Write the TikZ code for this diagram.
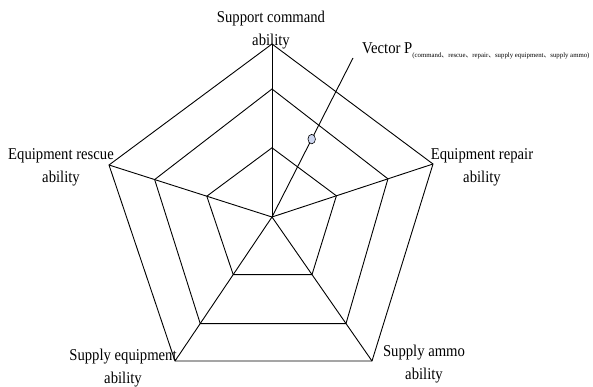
\documentclass[tikz,border=0pt]{standalone}
\usepackage{fontspec}
\setmainfont{Liberation Serif}
\newfontfamily\labelfont[FakeStretch=0.89]{Liberation Serif}
\newfontfamily\cjkfont{Noto Sans CJK SC}
\usepackage{tikz}
\usetikzlibrary{
  calc,
  positioning,
  shapes.geometric
}
\definecolor{markfill}{RGB}{205,214,240}
\newcommand{\dunhao}{{\cjkfont 、}}

\begin{document}
\begin{tikzpicture}[
      x=1pt,y=-1pt,
      web/.style={
         draw=black,
         line width=0.9pt,
         line join=miter
      },
      axislabel/.style={
         inner sep=0pt,
         align=center,
         font=\labelfont\fontsize{16.5}{23}\selectfont
      },
      veclabel/.style={
         inner sep=0pt,
         anchor=west,
         font=\labelfont\fontsize{16.5}{18}\selectfont
      },
      marker/.style={
         ellipse,
         draw=black,
         line width=0.6pt,
         fill=markfill,
         minimum width=7.5pt,
         minimum height=9.5pt,
         inner sep=0pt
      }
    ]
    \useasboundingbox (0,0) rectangle (593,387);
    % centre and outer corners
    \coordinate (c)  at (272,217);
    \coordinate (o1) at (272,44);
    \coordinate (o2) at (433,164);
    \coordinate (o3) at (372,361);
    \coordinate (o4) at (175,361);
    \coordinate (o5) at (109,165);
    % middle and inner rings
    \coordinate (m1) at ($(c)!0.74!(o1)$);
    \coordinate (m2) at ($(c)!0.72!(o2)$);
    \coordinate (m3) at ($(c)!0.74!(o3)$);
    \coordinate (m4) at ($(c)!0.74!(o4)$);
    \coordinate (m5) at ($(c)!0.72!(o5)$);
    \coordinate (i1) at ($(c)!0.40!(o1)$);
    \coordinate (i2) at ($(c)!0.40!(o2)$);
    \coordinate (i3) at ($(c)!0.40!(o3)$);
    \coordinate (i4) at ($(c)!0.40!(o4)$);
    \coordinate (i5) at ($(c)!0.40!(o5)$);
    \draw[web] (o1) -- (o2) -- (o3) -- (o4) -- (o5) -- cycle;
    \draw[web] (m1) -- (m2) -- (m3) -- (m4) -- (m5) -- cycle;
    \draw[web] (i1) -- (i2) -- (i3) -- (i4) -- (i5) -- cycle;
    \draw[web] (c) -- (o1);
    \draw[web] (c) -- (o2);
    \draw[web] (c) -- (o3);
    \draw[web] (c) -- (o4);
    \draw[web] (c) -- (o5);
    % the vector
    \coordinate (vend) at (353,58);
    \draw[web] (c) -- (vend);
    \node (pt) [marker] at ($(c)!0.49!(vend)$) {};
    \node (vlab) [veclabel] at (362,51) {Vector P\raisebox{-4pt}{\rmfamily\fontsize{6.8}{7}\selectfont (command\dunhao rescue\dunhao repair\dunhao supply equipment\dunhao supply ammo)}};
    % axis names
    \node (lcommand) [axislabel] at (271,30)  {Support command\\ability};
    \node (lrepair)  [axislabel] at (482,167) {Equipment repair\\ability};
    \node (lammo)    [axislabel] at (424,364) {Supply ammo\\ability};
    \node (lsupply)  [axislabel] at (123,368) {Supply equipment\\ability};
    \node (lrescue)  [axislabel] at (61,167)  {Equipment rescue\\ability};
\end{tikzpicture}
\end{document}
